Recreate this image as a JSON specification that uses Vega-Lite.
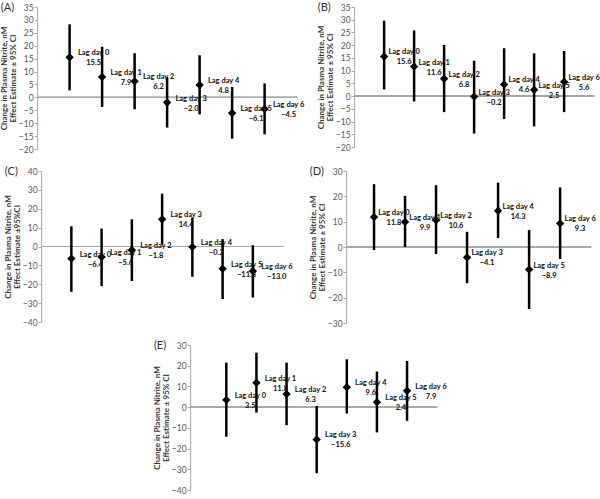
{
  "$schema": "https://vega.github.io/schema/vega-lite/v6.json",
  "padding": {"left": 0, "top": 2, "right": 0, "bottom": 2},
  "background": "white",
  "config": {
    "view": {"stroke": null},
    "font": "Lato",
    "title": {"font": "Lato", "fontSize": 11, "fontWeight": "normal", "color": "#333333", "anchor": "start", "frame": "bounds", "offset": 0, "dy": 14},
    "axis": {"labelFont": "Lato", "labelFontSize": 8.5, "labelColor": "#595959", "domainColor": "#a8a8a8", "tickColor": "#a8a8a8", "tickSize": 3, "labelPadding": 1, "grid": false, "titleFont": "Lato", "titleFontSize": 8, "titleFontWeight": "bold", "titleColor": "#333333", "titlePadding": 1, "titleLineHeight": 8.5},
    "text": {"font": "Lato", "fontSize": 7.5, "fontWeight": "bold", "color": "#111111"}
  },
  "datasets": {
    "A": [
      {"lag": 0, "est": 15.5, "lo": 2.7, "hi": 28.3},
      {"lag": 1, "est": 7.9, "lo": -3.7, "hi": 19.6},
      {"lag": 2, "est": 6.2, "lo": -4.6, "hi": 17.1},
      {"lag": 3, "est": -2.0, "lo": -11.7, "hi": 7.9},
      {"lag": 4, "est": 4.8, "lo": -6.6, "hi": 16.3},
      {"lag": 5, "est": -6.1, "lo": -16.0, "hi": 4.0},
      {"lag": 6, "est": -4.5, "lo": -14.3, "hi": 5.4}
    ],
    "B": [
      {"lag": 0, "est": 15.6, "lo": 2.6, "hi": 29.6},
      {"lag": 1, "est": 11.6, "lo": -2.1, "hi": 25.8},
      {"lag": 2, "est": 6.8, "lo": -6.3, "hi": 20.1},
      {"lag": 3, "est": -0.2, "lo": -14.7, "hi": 13.9},
      {"lag": 4, "est": 4.6, "lo": -9.0, "hi": 18.8},
      {"lag": 5, "est": 2.5, "lo": -11.9, "hi": 16.8},
      {"lag": 6, "est": 5.6, "lo": -6.3, "hi": 17.7}
    ],
    "C": [
      {"lag": 0, "est": -6.4, "lo": -24.0, "hi": 10.7},
      {"lag": 1, "est": -5.6, "lo": -21.0, "hi": 9.5},
      {"lag": 2, "est": -1.8, "lo": -18.3, "hi": 14.4},
      {"lag": 3, "est": 14.4, "lo": 1.0, "hi": 28.0},
      {"lag": 4, "est": -0.2, "lo": -16.0, "hi": 15.3},
      {"lag": 5, "est": -11.8, "lo": -27.8, "hi": 3.9},
      {"lag": 6, "est": -13.0, "lo": -27.0, "hi": 0.7}
    ],
    "D": [
      {"lag": 0, "est": 11.8, "lo": -1.2, "hi": 24.8},
      {"lag": 1, "est": 9.9, "lo": 0.0, "hi": 20.2},
      {"lag": 2, "est": 10.6, "lo": -2.8, "hi": 24.4},
      {"lag": 3, "est": -4.1, "lo": -14.3, "hi": 6.0},
      {"lag": 4, "est": 14.3, "lo": 3.5, "hi": 25.4},
      {"lag": 5, "est": -8.9, "lo": -24.5, "hi": 6.7},
      {"lag": 6, "est": 9.3, "lo": -4.7, "hi": 23.5}
    ],
    "E": [
      {"lag": 0, "est": 3.5, "lo": -14.3, "hi": 21.5},
      {"lag": 1, "est": 11.8, "lo": -2.6, "hi": 26.3},
      {"lag": 2, "est": 6.3, "lo": -8.7, "hi": 21.5},
      {"lag": 3, "est": -15.6, "lo": -31.9, "hi": 0.6},
      {"lag": 4, "est": 9.6, "lo": -3.1, "hi": 23.1},
      {"lag": 5, "est": 2.4, "lo": -12.2, "hi": 17.2},
      {"lag": 6, "est": 7.9, "lo": -6.6, "hi": 22.3}
    ]
  },
  "center": true,
  "spacing": 12,
  "vconcat": [
    {
      "bounds": "flush",
      "spacing": 57,
      "hconcat": [
        {
          "title": "(A)",
          "width": 260, "height": 142,
          "data": {"name": "A"},
          "transform": [{"calculate": "'Lag day ' + datum.lag", "as": "lab"}, {"calculate": "format(datum.est, '.1f')", "as": "vlab"}],
          "encoding": {
            "x": {"field": "lag", "type": "quantitative", "scale": {"domain": [-1, 7], "nice": false}, "axis": null},
            "y": {"field": "est", "type": "quantitative", "scale": {"domain": [-20, 35], "nice": false, "zero": false}, "axis": {"values": [-20, -15, -10, -5, 0, 5, 10, 15, 20, 25, 30, 35], "title": ["Change in Plasma Nitrite, nM", "Effect Estimate ± 95% CI"]}}
          },
          "layer": [
            {"mark": {"type": "rule", "color": "#a8a8a8", "strokeWidth": 1}, "encoding": {"x": null, "y": {"datum": 0}}},
            {"mark": {"type": "rule", "color": "black", "strokeWidth": 2.5}, "encoding": {"y": {"field": "lo", "type": "quantitative"}, "y2": {"field": "hi"}}},
            {"mark": {"type": "point", "shape": "diamond", "filled": true, "color": "black", "size": 70, "opacity": 1}},
            {"mark": {"type": "text", "dx": 24, "dy": -4}, "encoding": {"text": {"field": "lab"}}},
            {"mark": {"type": "text", "dx": 24, "dy": 6}, "encoding": {"text": {"field": "vlab"}}}
          ]
        },
        {
          "title": "(B)",
          "width": 240, "height": 140,
          "data": {"name": "B"},
          "transform": [{"calculate": "'Lag day ' + datum.lag", "as": "lab"}, {"calculate": "format(datum.est, '.1f')", "as": "vlab"}],
          "encoding": {
            "x": {"field": "lag", "type": "quantitative", "scale": {"domain": [-1, 7], "nice": false}, "axis": null},
            "y": {"field": "est", "type": "quantitative", "scale": {"domain": [-20, 35], "nice": false, "zero": false}, "axis": {"values": [-20, -15, -10, -5, 0, 5, 10, 15, 20, 25, 30, 35], "title": ["Change in Plasma Nitrite, nM", "Effect Estimate ± 95% CI"]}}
          },
          "layer": [
            {"mark": {"type": "rule", "color": "#a8a8a8", "strokeWidth": 1}, "encoding": {"x": null, "y": {"datum": 0}}},
            {"mark": {"type": "rule", "color": "black", "strokeWidth": 2.5}, "encoding": {"y": {"field": "lo", "type": "quantitative"}, "y2": {"field": "hi"}}},
            {"mark": {"type": "point", "shape": "diamond", "filled": true, "color": "black", "size": 70, "opacity": 1}},
            {"mark": {"type": "text", "dx": 20, "dy": -4}, "encoding": {"text": {"field": "lab"}}},
            {"mark": {"type": "text", "dx": 20, "dy": 6}, "encoding": {"text": {"field": "vlab"}}}
          ]
        }
      ]
    },
    {
      "bounds": "flush",
      "spacing": 63,
      "hconcat": [
        {
          "title": "(C)",
          "width": 242, "height": 151,
          "data": {"name": "C"},
          "transform": [{"calculate": "'Lag day ' + datum.lag", "as": "lab"}, {"calculate": "format(datum.est, '.1f')", "as": "vlab"}],
          "encoding": {
            "x": {"field": "lag", "type": "quantitative", "scale": {"domain": [-1, 7], "nice": false}, "axis": null},
            "y": {"field": "est", "type": "quantitative", "scale": {"domain": [-40, 40], "nice": false, "zero": false}, "axis": {"values": [-40, -30, -20, -10, 0, 10, 20, 30, 40], "title": ["Change in Plasma Nitrite, nM", "Effect Estimate ±95%CI"]}}
          },
          "layer": [
            {"mark": {"type": "rule", "color": "#a8a8a8", "strokeWidth": 1}, "encoding": {"x": null, "y": {"datum": 0}}},
            {"mark": {"type": "rule", "color": "black", "strokeWidth": 2.5}, "encoding": {"y": {"field": "lo", "type": "quantitative"}, "y2": {"field": "hi"}}},
            {"mark": {"type": "point", "shape": "diamond", "filled": true, "color": "black", "size": 70, "opacity": 1}},
            {"mark": {"type": "text", "dx": 24, "dy": -4}, "encoding": {"text": {"field": "lab"}}},
            {"mark": {"type": "text", "dx": 24, "dy": 6}, "encoding": {"text": {"field": "vlab"}}}
          ]
        },
        {
          "title": "(D)",
          "width": 245, "height": 152,
          "data": {"name": "D"},
          "transform": [{"calculate": "'Lag day ' + datum.lag", "as": "lab"}, {"calculate": "format(datum.est, '.1f')", "as": "vlab"}],
          "encoding": {
            "x": {"field": "lag", "type": "quantitative", "scale": {"domain": [-0.9, 7], "nice": false}, "axis": null},
            "y": {"field": "est", "type": "quantitative", "scale": {"domain": [-30, 30], "nice": false, "zero": false}, "axis": {"values": [-30, -20, -10, 0, 10, 20, 30], "title": ["Change in Plasma Nitrite, nM", "Effect Estimate ± 95% CI"]}}
          },
          "layer": [
            {"mark": {"type": "rule", "color": "#a8a8a8", "strokeWidth": 1}, "encoding": {"x": null, "y": {"datum": 0}}},
            {"mark": {"type": "rule", "color": "black", "strokeWidth": 2.5}, "encoding": {"y": {"field": "lo", "type": "quantitative"}, "y2": {"field": "hi"}}},
            {"mark": {"type": "point", "shape": "diamond", "filled": true, "color": "black", "size": 70, "opacity": 1}},
            {"mark": {"type": "text", "dx": 20, "dy": -4}, "encoding": {"text": {"field": "lab"}}},
            {"mark": {"type": "text", "dx": 20, "dy": 6}, "encoding": {"text": {"field": "vlab"}}}
          ]
        }
      ]
    },
    {
      "title": "(E)",
      "width": 247, "height": 145,
      "data": {"name": "E"},
      "transform": [{"calculate": "'Lag day ' + datum.lag", "as": "lab"}, {"calculate": "format(datum.est, '.1f')", "as": "vlab"}],
      "encoding": {
        "x": {"field": "lag", "type": "quantitative", "scale": {"domain": [-1.2, 7], "nice": false}, "axis": null},
        "y": {"field": "est", "type": "quantitative", "scale": {"domain": [-40, 30], "nice": false, "zero": false}, "axis": {"values": [-40, -30, -20, -10, 0, 10, 20, 30], "title": ["Change in Plasma Nitrite, nM", "Effect Estimate ± 95% CI"]}}
      },
      "layer": [
        {"mark": {"type": "rule", "color": "#a8a8a8", "strokeWidth": 1}, "encoding": {"x": null, "y": {"datum": 0}}},
        {"mark": {"type": "rule", "color": "black", "strokeWidth": 2.5}, "encoding": {"y": {"field": "lo", "type": "quantitative"}, "y2": {"field": "hi"}}},
        {"mark": {"type": "point", "shape": "diamond", "filled": true, "color": "black", "size": 70, "opacity": 1}},
        {"mark": {"type": "text", "dx": 24, "dy": -4}, "encoding": {"text": {"field": "lab"}}},
        {"mark": {"type": "text", "dx": 24, "dy": 6}, "encoding": {"text": {"field": "vlab"}}}
      ]
    }
  ]
}
